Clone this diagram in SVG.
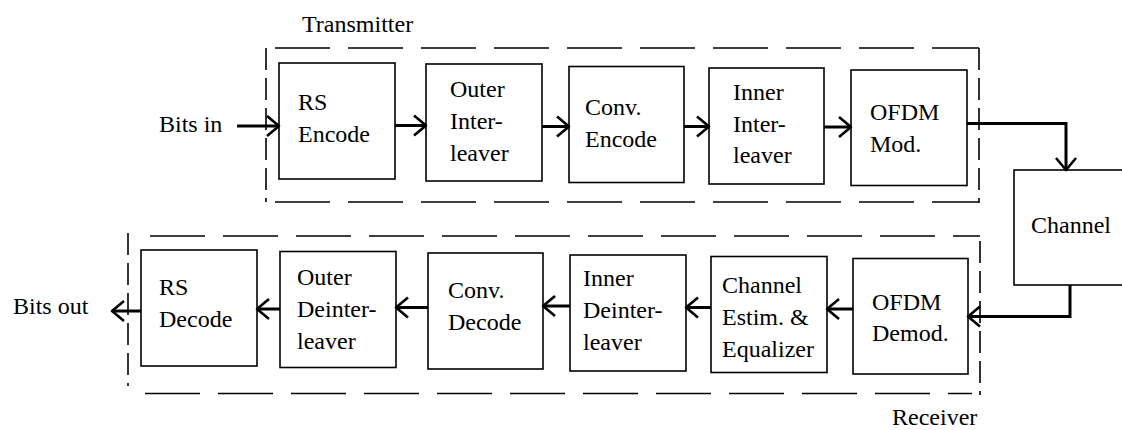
<svg xmlns="http://www.w3.org/2000/svg" width="1122" height="430" viewBox="0 0 1122 430">
<style>
text{font-family:'Liberation Serif','Times New Roman','DejaVu Serif',serif;font-size:24px;fill:#000}
.box{fill:#fff;stroke:#000;stroke-width:1.6}
.hd{stroke:#000;stroke-width:1.6;fill:none;stroke-dasharray:55 18}
.vd{stroke:#000;stroke-width:1.6;fill:none;stroke-dasharray:22 8}
.c{stroke:#000;stroke-width:3;fill:none;marker-end:url(#ah)}
</style>
<defs>
<marker id="ah" markerUnits="userSpaceOnUse" markerWidth="30" markerHeight="30" viewBox="-16 -15 20 30" refX="0" refY="0" orient="auto">
<path d="M-12,-10 L0,0 L-12,10" fill="none" stroke="#000" stroke-width="2.6" stroke-linejoin="round"/>
</marker>
</defs>
<rect width="1122" height="430" fill="#fff"/>
<g font-family="Liberation Serif, Times New Roman, DejaVu Serif, serif" font-size="24">
<g id="transmitter">
<line class="vd" x1="266" y1="48" x2="266" y2="202"/>
<line class="hd" x1="275" y1="48" x2="979" y2="48"/>
<line class="hd" x1="275" y1="202" x2="979" y2="202"/>
<line class="vd" x1="979" y1="48" x2="979" y2="203"/>
<text x="302" y="32">Transmitter</text>
</g>
<g id="receiver">
<line class="vd" x1="128" y1="233" x2="128" y2="386"/>
<line class="hd" x1="150" y1="236" x2="980" y2="236"/>
<line class="hd" x1="145" y1="393.5" x2="972" y2="393.5"/>
<line class="vd" x1="980" y1="241" x2="980" y2="395"/>
<text x="892" y="425">Receiver</text>
</g>
<g id="bits-in"><text x="159" y="132">Bits in</text></g>
<g id="bits-out"><text x="13" y="314">Bits out</text></g>
<g id="rs-encode"><rect class="box" x="279" y="63" width="116" height="116"/><text x="298" y="110">RS</text><text x="298" y="142">Encode</text></g>
<g id="outer-interleaver"><rect class="box" x="426" y="64" width="116" height="117"/><text x="450" y="97">Outer</text><text x="450" y="129">Inter-</text><text x="450" y="161">leaver</text></g>
<g id="conv-encode"><rect class="box" x="569" y="66.5" width="115" height="116"/><text x="585" y="115">Conv.</text><text x="585" y="147">Encode</text></g>
<g id="inner-interleaver"><rect class="box" x="709" y="68" width="115" height="116"/><text x="733" y="100">Inner</text><text x="733" y="132">Inter-</text><text x="733" y="163">leaver</text></g>
<g id="ofdm-mod"><rect class="box" x="851" y="70" width="116" height="115.5"/><text x="870" y="120">OFDM</text><text x="870" y="152">Mod.</text></g>
<g id="channel"><rect class="box" x="1014" y="170" width="120" height="115"/><text x="1031" y="233">Channel</text></g>
<g id="ofdm-demod"><rect class="box" x="853" y="258.5" width="115" height="115.5"/><text x="872" y="310">OFDM</text><text x="872" y="341">Demod.</text></g>
<g id="channel-estim"><rect class="box" x="711" y="256.5" width="116" height="116"/><text x="722" y="293">Channel</text><text x="722" y="325">Estim. &amp;</text><text x="722" y="357">Equalizer</text></g>
<g id="inner-deinterleaver"><rect class="box" x="570" y="255" width="116" height="116"/><text x="583" y="286">Inner</text><text x="583" y="318">Deinter-</text><text x="583" y="350">leaver</text></g>
<g id="conv-decode"><rect class="box" x="428" y="253" width="115" height="116"/><text x="448" y="298">Conv.</text><text x="448" y="330">Decode</text></g>
<g id="outer-deinterleaver"><rect class="box" x="280" y="251.5" width="116" height="116"/><text x="297" y="285">Outer</text><text x="297" y="317">Deinter-</text><text x="297" y="349">leaver</text></g>
<g id="rs-decode"><rect class="box" x="141" y="250" width="116" height="116"/><text x="159" y="295">RS</text><text x="159" y="327">Decode</text></g>
</g>
<g id="connectors">
<path class="c" d="M237,126 H279"/>
<path class="c" d="M395,125.5 H426"/>
<path class="c" d="M542,126.5 H569"/>
<path class="c" d="M684,126.5 H709"/>
<path class="c" d="M824,127 H851"/>
<path class="c" d="M967,123.5 H1066 V170"/>
<path class="c" d="M1070,285 V316.5 H968"/>
<path class="c" d="M853,309 H827"/>
<path class="c" d="M711,307.5 H686"/>
<path class="c" d="M570,306 H543"/>
<path class="c" d="M428,307.5 H396"/>
<path class="c" d="M280,309 H257"/>
<path class="c" d="M141,311 H112"/>
</g>
</svg>
